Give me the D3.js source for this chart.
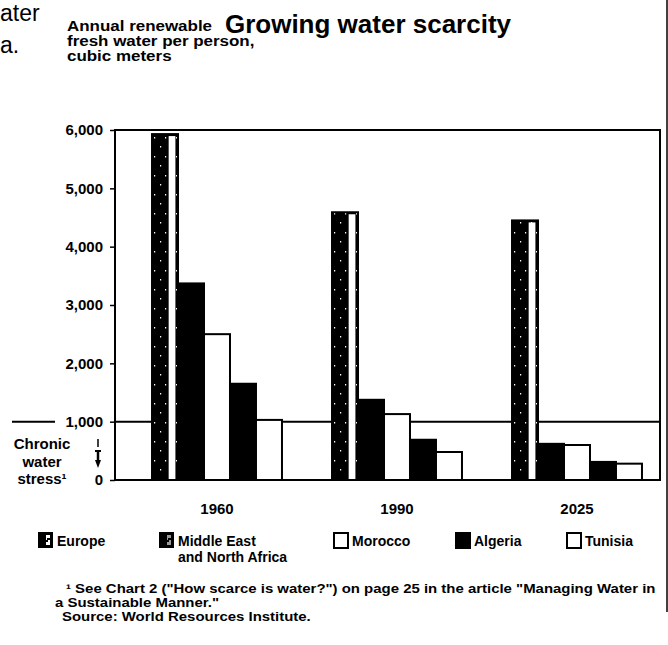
<!DOCTYPE html>
<html>
<head>
<meta charset="utf-8">
<script src="https://cdn.jsdelivr.net/npm/d3@7"></script>
<style>
  body { margin: 0; background: #fff; }
  svg { display: block; font-family: "Liberation Sans", Arial, sans-serif; font-weight: bold; }
</style>
</head>
<body>
<div id="chart"></div>
<script>
const years = ["1960", "1990", "2025"];
const regions = ["Europe", "Middle East and North Africa", "Morocco", "Algeria", "Tunisia"];
const europe = [5930, 4590, 4450];
const middleEast = [3370, 1375, 620];
const morocco = [2500, 1130, 600];
const algeria = [1650, 690, 310];
const tunisia = [1030, 480, 280];
const yTicks = [0, 1000, 2000, 3000, 4000, 5000, 6000];
const stressLevel = 1000;
const legendLabels = [["Europe"], ["Middle East", "and North Africa"], ["Morocco"], ["Algeria"], ["Tunisia"]];

const series = [europe, middleEast, morocco, algeria, tunisia];
const fills = ["speckle", "black", "white", "black", "white"];
const legendX = [38, 159, 333, 455, 566];

const width = 668;
const height = 645;
const plotLeft = 115, plotRight = 660, plotTop = 130, plotBottom = 480;

const svg = d3.select("#chart")
    .append("svg")
        .attr("width", width)
        .attr("height", height)
        .attr("viewBox", [0, 0, width, height]);

// speckled black fill used for the Europe bars
const pat = svg.append("defs").append("pattern")
    .attr("id", "speckle")
    .attr("patternUnits", "userSpaceOnUse")
    .attr("width", 11)
    .attr("height", 19);
pat.append("rect").attr("width", 11).attr("height", 19).attr("fill", "#000");
[[2, 4], [8, 13]].forEach(p => {
    pat.append("rect").attr("x", p[0]).attr("y", p[1]).attr("width", 1.2).attr("height", 1.5).attr("fill", "#fff");
});

const y = d3.scaleLinear().domain([0, 6000]).range([plotBottom, plotTop]);
const x0 = d3.scaleBand().domain(years).range([127, 667]).paddingInner(0.278).paddingOuter(0.139);
const x1 = d3.scaleBand().domain(regions).range([0, x0.bandwidth()]);

// page fragments and border
svg.append("text").attr("x", 0).attr("y", 21)
    .attr("font-size", 23).attr("font-weight", "normal").text("ater");
svg.append("text").attr("x", 0).attr("y", 53)
    .attr("font-size", 23).attr("font-weight", "normal").text("a.");
svg.append("line").attr("x1", 667).attr("x2", 667).attr("y1", 0).attr("y2", 612)
    .attr("stroke", "#000").attr("stroke-width", 1.5);

svg.append("text").attr("x", 368).attr("y", 33).attr("text-anchor", "middle")
    .attr("font-size", 26).text("Growing water scarcity");

// axis title, set in a slightly widened face like the print
const wide = 1.17;
svg.append("g").attr("font-size", 14.5)
    .attr("transform", "scale(" + wide + ",1)")
    .selectAll("text")
    .data(["Annual renewable", "fresh water per person,", "cubic meters"])
    .enter().append("text")
        .attr("x", 67 / wide)
        .attr("y", (d, i) => 31 + i * 15)
        .text(d => d);

// chronic water stress line
svg.append("line").attr("x1", 12).attr("x2", 55).attr("y1", y(stressLevel)).attr("y2", y(stressLevel))
    .attr("stroke", "#000").attr("stroke-width", 2);
svg.append("line").attr("x1", plotLeft).attr("x2", plotRight).attr("y1", y(stressLevel)).attr("y2", y(stressLevel))
    .attr("stroke", "#000").attr("stroke-width", 2);

// bars
const group = svg.append("g").selectAll("g")
    .data(years)
    .enter().append("g")
        .attr("transform", d => "translate(" + x0(d) + ",0)");

group.each(function(year, yi) {
    const g = d3.select(this);
    regions.forEach((r, ri) => {
        const v = series[ri][yi];
        const bx = x1(r), bw = x1.bandwidth(), by = y(v), bh = y(0) - y(v);
        if (fills[ri] === "speckle") {
            g.append("rect").attr("x", bx).attr("y", by).attr("width", bw).attr("height", bh)
                .attr("fill", "url(#speckle)");
            g.append("rect").attr("x", bx + bw * 0.64).attr("y", by + 2).attr("width", bw * 0.26).attr("height", bh - 2)
                .attr("fill", "#fff");
            g.append("rect").attr("x", bx).attr("y", by).attr("width", bw).attr("height", bh)
                .attr("fill", "none").attr("stroke", "#000").attr("stroke-width", 2);
        } else {
            g.append("rect").attr("x", bx).attr("y", by).attr("width", bw).attr("height", bh)
                .attr("fill", fills[ri]).attr("stroke", "#000").attr("stroke-width", 2);
        }
    });
});

// frame
svg.append("rect")
    .attr("x", plotLeft).attr("y", plotTop)
    .attr("width", plotRight - plotLeft).attr("height", plotBottom - plotTop)
    .attr("fill", "none").attr("stroke", "#000").attr("stroke-width", 2);

const yAxis = svg.append("g")
    .attr("transform", "translate(" + plotLeft + ",0)")
    .call(d3.axisLeft(y).tickValues(yTicks).tickFormat(d3.format(",")).tickSize(5).tickPadding(7));
yAxis.select(".domain").remove();
yAxis.selectAll("line").attr("stroke", "#000").attr("stroke-width", 1.5);
yAxis.selectAll("text").attr("font-size", 15).attr("fill", "#000");
yAxis.attr("font-family", null);

svg.append("g").selectAll("text")
    .data(years)
    .enter().append("text")
        .attr("x", d => x0(d) + x0.bandwidth() / 2)
        .attr("y", 514)
        .attr("text-anchor", "middle")
        .attr("font-size", 15)
        .text(d => d);

// chronic water stress label and arrow
svg.append("g").attr("font-size", 15).attr("text-anchor", "middle")
    .selectAll("text")
    .data(["Chronic", "water", "stress\u00b9"])
    .enter().append("text")
        .attr("x", 42)
        .attr("y", (d, i) => 449 + i * 17.5)
        .text(d => d);
const ax = 98;
svg.append("line").attr("x1", ax).attr("x2", ax).attr("y1", 439).attr("y2", 447).attr("stroke", "#000").attr("stroke-width", 1.5);
svg.append("line").attr("x1", ax - 3).attr("x2", ax + 3).attr("y1", 451).attr("y2", 451).attr("stroke", "#000").attr("stroke-width", 2);
svg.append("line").attr("x1", ax).attr("x2", ax).attr("y1", 451).attr("y2", 462).attr("stroke", "#000").attr("stroke-width", 2.5);
svg.append("path").attr("d", `M${ax - 3},460 L${ax + 3},460 L${ax},468 Z`).attr("fill", "#000");

// legend
const legend = svg.append("g").selectAll("g")
    .data(regions)
    .enter().append("g")
        .attr("transform", (d, i) => "translate(" + legendX[i] + ",532)");

legend.each(function(r, i) {
    const g = d3.select(this);
    if (fills[i] === "speckle" || i === 1) {
        g.append("rect").attr("width", 15).attr("height", 16).attr("fill", "#000");
        g.append("path").attr("d", "M8,3 h4 v3 h-3 v2 h3 v5 h-4 v-3 h2 v-2 h-2 z").attr("fill", "#fff")
            .attr("opacity", i === 1 ? 0.6 : 1);
    } else {
        g.append("rect").attr("x", 1).attr("y", 1).attr("width", 14).attr("height", 15)
            .attr("fill", fills[i]).attr("stroke", "#000").attr("stroke-width", 2);
    }
    g.selectAll("text")
        .data(legendLabels[i])
        .enter().append("text")
            .attr("x", 19)
            .attr("y", (d, j) => 14 + j * 16)
            .attr("font-size", 14)
            .text(d => d);
});

// footnotes, widened the same way
const noteWide = 1.15;
const notes = [
    [66, 593, "\u00b9 See Chart 2  (\"How scarce is water?\") on page 25 in the article \"Managing Water in"],
    [55, 607, "a Sustainable Manner.\""],
    [62, 621, "Source: World Resources Institute."]
];
svg.append("g").attr("font-size", 13)
    .attr("transform", "scale(" + noteWide + ",1)")
    .selectAll("text")
    .data(notes)
    .enter().append("text")
        .attr("x", d => d[0] / noteWide)
        .attr("y", d => d[1])
        .text(d => d[2]);
</script>
</body>
</html>
